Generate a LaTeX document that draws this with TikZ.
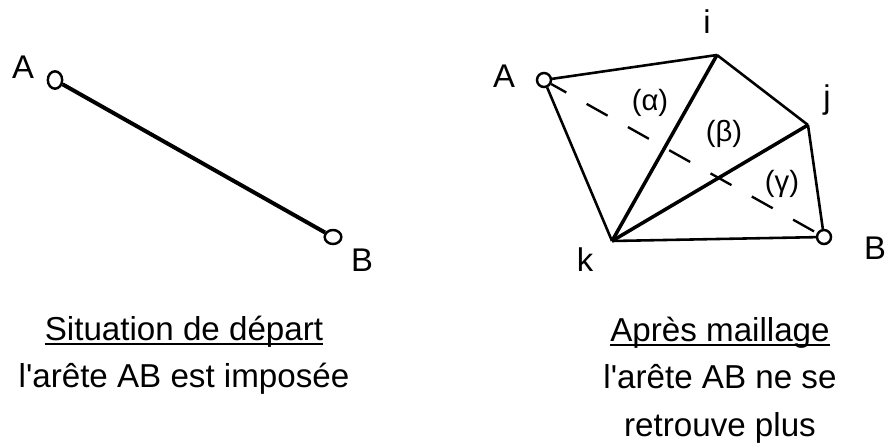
\documentclass[tikz,border=0pt]{standalone}
\usepackage{fontspec}
\setmainfont{Liberation Sans}
\usetikzlibrary{shapes.geometric}
\newcommand{\souligne}[1]{\leavevmode\setbox0\hbox{#1}\rlap{\rule[-4.2pt]{\wd0}{1.5pt}}\box0}
\begin{document}
\begin{tikzpicture}[
    x=0.03cm, y=-0.03cm,
    label/.style={inner sep=0pt, font=\fontsize{28}{40}\selectfont},
    greek/.style={inner sep=0pt, font=\fontsize{25}{30}\selectfont},
    caption/.style={label, align=center, font=\fontsize{28.3}{40.5}\selectfont},
    extremity/.style={draw, ellipse, line width=2.1pt, fill=white, inner sep=0pt, minimum width=#1},
    thin edge/.style={line width=2.2pt},
    thick edge/.style={line width=3pt}
]
    \useasboundingbox (0,0) rectangle (885,445);

    % Starting situation
    \node[extremity=4.3mm, minimum height=5.2mm] (startA) at (55,80) {};
    \node[extremity=5.0mm, minimum height=4.2mm] (startB) at (333,237) {};
    \draw[line width=3.4pt] (startA) -- (startB);
    \node[label] (labelstartA) at (23,67) {A};
    \node[label] (labelstartB) at (362,260) {B};

    % After meshing
    \coordinate (i) at (717,55);
    \coordinate (j) at (808,125);
    \coordinate (k) at (612,241);
    \node[extremity=4.2mm, minimum height=4.2mm] (meshA) at (544,80) {};
    \node[extremity=4.2mm, minimum height=4.2mm] (meshB) at (824,237) {};
    \draw[thin edge] (meshA) -- (i);
    \draw[thin edge] (i) -- (j);
    \draw[thin edge] (j) -- (meshB);
    \draw[thin edge] (meshB) -- (k);
    \draw[thin edge] (k) -- (meshA);
    \draw[thick edge] (i) -- (k);
    \draw[thick edge] (j) -- (k);
    \draw[line width=2pt, dash pattern=on 0.72cm off 0.7cm, dash phase=0.2cm] (meshA) -- (meshB);

    % Labels
    \node[label] (labelmeshA) at (504,76) {A};
    \node[label] (labelmeshB) at (875,248) {B};
    \node[label] (labeli) at (707,22) {i};
    \node[label] (labelj) at (827,100) {j};
    \node[label] (labelk) at (585,260) {k};
    \node[greek] (alpha) at (650,103) {(α)};
    \node[greek] (beta) at (724,134) {(β)};
    \node[greek] (gamma) at (782,184) {(γ)};

    % Captions
    \node[caption] (capstart) at (184,355) {\souligne{Situation de départ}\\l\textquotesingle arête AB est imposée};
    \node[caption] (capmesh) at (720,380) {\souligne{Après maillage}\\l\textquotesingle arête AB ne se\\retrouve plus};
\end{tikzpicture}
\end{document}
